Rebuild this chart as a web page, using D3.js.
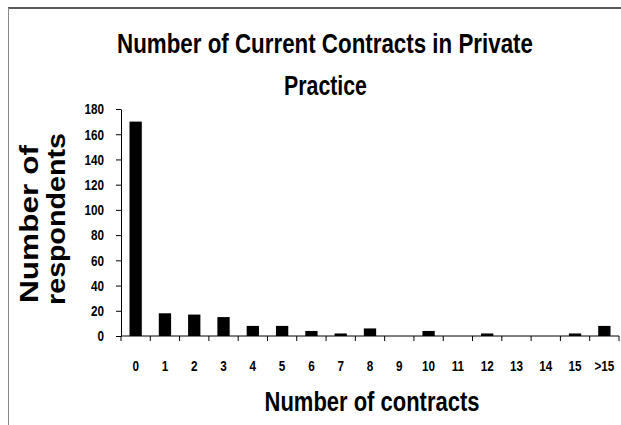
<!DOCTYPE html>
<html>
<head>
<meta charset="utf-8">
<script src="https://cdn.jsdelivr.net/npm/d3@7"></script>
<style>
  body { margin: 0; background: #fff; }
  svg { display: block; }
  .narrow { font-family: "Liberation Sans", Arial, sans-serif; font-weight: bold; }
</style>
</head>
<body>
<svg width="621" height="425"></svg>
<script>
const categories = ["0", "1", "2", "3", "4", "5", "6", "7", "8", "9", "10", "11", "12", "13", "14", "15", ">15"];
const respondents = [170, 18, 17, 15, 8, 8, 4, 2, 6, 0, 4, 0, 2, 0, 0, 2, 8];
const yTicks = [0, 20, 40, 60, 80, 100, 120, 140, 160, 180];

const svg = d3.select("svg");

// squeeze a bold sans text into a narrow face look
function squeeze(sel, k) {
    sel.each(function() {
        const w = this.getComputedTextLength();
        d3.select(this).attr("textLength", w * k).attr("lengthAdjust", "spacingAndGlyphs");
    });
}

// centred label stretched/squeezed to a given width via a scale transform
function label(txt, cx, cy, size, width, rot) {
    const t = svg.append("text")
        .attr("class", "narrow")
        .attr("text-anchor", "middle")
        .style("font-size", size + "px")
        .text(txt);
    const k = width / t.node().getComputedTextLength();
    t.attr("transform", `translate(${cx},${cy})` + (rot ? ` rotate(${rot})` : "") + ` scale(${k},1)`);
    return t;
}

// outer frame (top + left edge only)
svg.append("line").attr("x1", 8).attr("x2", 621).attr("y1", 8).attr("y2", 8)
    .attr("stroke", "#222").attr("stroke-width", 1.5);
svg.append("line").attr("x1", 8.5).attr("x2", 8.5).attr("y1", 8).attr("y2", 425)
    .attr("stroke", "#888").attr("stroke-width", 1);

const plotLeft = 121, plotRight = 619, plotTop = 109, plotBottom = 336;

const x = d3.scaleBand()
    .domain(categories)
    .range([plotLeft, plotRight]);

const y = d3.scaleLinear()
    .domain([0, 180])
    .range([plotBottom, plotTop]);

const barW = x.bandwidth() * 0.42;

// bars
svg.selectAll(".bar")
    .data(respondents)
    .enter().append("rect")
    .attr("class", "bar")
    .attr("x", (d, i) => x(categories[i]) + (x.bandwidth() - barW) / 2)
    .attr("y", d => y(d))
    .attr("width", barW)
    .attr("height", d => plotBottom - y(d))
    .attr("fill", "#000");

// y axis
const yAxis = svg.append("g")
    .attr("transform", `translate(${plotLeft},0)`)
    .call(d3.axisLeft(y).tickValues(yTicks).tickSize(5).tickSizeOuter(0).tickPadding(12));
yAxis.selectAll("text").attr("class", "narrow").style("font-size", "15px").attr("fill", "#000");
yAxis.select(".domain").attr("stroke", "#000");
yAxis.selectAll(".tick line").attr("stroke", "#000");
squeeze(yAxis.selectAll("text"), 0.78);

// x axis: line and ticks between categories
const xAxis = svg.append("g").attr("transform", `translate(0,${plotBottom})`);
xAxis.append("line").attr("x1", plotLeft).attr("x2", plotRight).attr("stroke", "#000");
const bounds = categories.map(c => x(c)).concat([plotRight]);
xAxis.selectAll(".xt")
    .data(bounds)
    .enter().append("line")
    .attr("class", "xt")
    .attr("x1", d => d).attr("x2", d => d)
    .attr("y1", 0).attr("y2", 5)
    .attr("stroke", "#000");
const xl = xAxis.selectAll(".xl")
    .data(categories)
    .enter().append("text")
    .attr("class", "narrow")
    .attr("x", d => x(d) + x.bandwidth() / 2)
    .attr("y", 35)
    .attr("text-anchor", "middle")
    .style("font-size", "15px")
    .text(d => d);
squeeze(xl, 0.78);

// title, two lines
label("Number of Current Contracts in Private", 325, 53, 28, 416);
label("Practice", 325.5, 95, 28, 83);

// x axis title
label("Number of contracts", 372, 411, 28, 215);

// y axis title
label("Number of", 38, 224, 25, 158, -90);
label("respondents", 65, 219, 25, 172, -90);
</script>
</body>
</html>
